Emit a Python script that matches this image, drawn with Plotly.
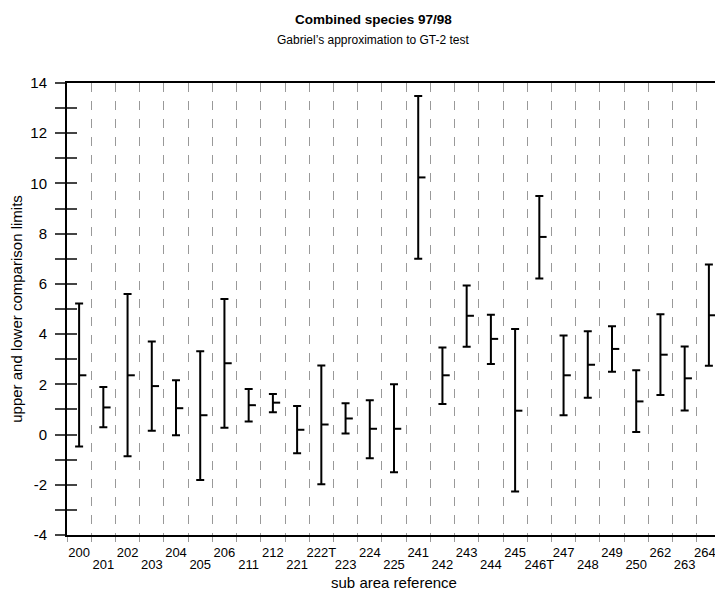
import plotly.graph_objects as go

categories = ["200", "201", "202", "203", "204", "205", "206", "211", "212", "221",
              "222T", "223", "224", "225", "241", "242", "243", "244", "245", "246T",
              "247", "248", "249", "250", "262", "263", "264T"]
upper = [5.22, 1.89, 5.60, 3.71, 2.16, 3.32, 5.40, 1.81, 1.62, 1.14,
         2.75, 1.25, 1.37, 2.00, 13.48, 3.47, 5.94, 4.77, 4.20, 9.50,
         3.94, 4.11, 4.31, 2.56, 4.79, 3.51, 6.77]
mean = [2.36, 1.08, 2.36, 1.93, 1.05, 0.77, 2.84, 1.17, 1.27, 0.19,
        0.40, 0.64, 0.23, 0.23, 10.24, 2.36, 4.73, 3.81, 0.95, 7.87,
        2.36, 2.78, 3.41, 1.32, 3.18, 2.24, 4.75]
lower = [-0.48, 0.29, -0.86, 0.15, -0.03, -1.81, 0.27, 0.52, 0.89, -0.74,
         -1.98, 0.04, -0.94, -1.50, 7.00, 1.22, 3.50, 2.81, -2.27, 6.21,
         0.77, 1.47, 2.50, 0.10, 1.58, 0.96, 2.74]
y_ticks = list(range(-4, 15))

n = len(categories)
xc = [i + 0.5 for i in range(n)]
even_vals = [xc[i] for i in range(0, n, 2)]
even_text = [categories[i] for i in range(0, n, 2)]
odd_vals = [xc[i] for i in range(1, n, 2)]
odd_text = [categories[i] for i in range(1, n, 2)]

fig = go.Figure()
fig.add_trace(go.Scatter(
    x=xc, y=mean, mode="markers",
    marker=dict(size=2, color="black", opacity=0),
    error_y=dict(type="data", symmetric=False,
                 array=[u - m for u, m in zip(upper, mean)],
                 arrayminus=[m - l for m, l in zip(mean, lower)],
                 width=4, thickness=2, color="black"),
    hoverinfo="skip", showlegend=False))

mx, my = [], []
for x, m in zip(xc, mean):
    mx += [x, x + 0.3, None]
    my += [m, m, None]
fig.add_trace(go.Scatter(x=mx, y=my, mode="lines", line=dict(color="black", width=2),
                         xaxis="x2", yaxis="y2", hoverinfo="skip", showlegend=False))

font_family = "Liberation Sans, Arial, sans-serif"
title_x = (373 - 67) / 654
fig.update_layout(
    width=715, height=583,
    margin=dict(l=59, r=2, t=75, b=56),
    paper_bgcolor="white", plot_bgcolor="white",
    font=dict(family=font_family, color="black"),
    showlegend=False,
    xaxis=dict(
        range=[0, 27], tickmode="array", tickvals=even_vals, ticktext=even_text,
        tickangle=0, automargin=False, ticklabelstandoff=4, ticklabeloverflow="allow",
        ticks="", showgrid=False, zeroline=False,
        showline=True, linecolor="black", linewidth=2, mirror=True,
        tickfont=dict(size=13),
        minor=dict(tickmode="linear", tick0=0, dtick=1, ticks="outside", ticklen=5,
                   tickcolor="#999", showgrid=True, gridcolor="#999",
                   griddash="dash", gridwidth=1),
        title=dict(text="sub area reference", font=dict(size=15), standoff=19),
    ),
    xaxis2=dict(
        range=[0, 27], overlaying="x", matches="x", anchor="y", side="bottom",
        tickmode="array", tickvals=odd_vals, ticktext=odd_text,
        tickangle=0, automargin=False, ticklabelstandoff=20, ticklabeloverflow="allow",
        ticks="", showgrid=False, zeroline=False, showline=False,
        tickfont=dict(size=13),
    ),
    yaxis=dict(
        range=[-4, 14], tickmode="array", tickvals=y_ticks, automargin=False,
        ticktext=[str(v) if v % 2 == 0 else "" for v in y_ticks],
        ticks="outside", ticklen=10, tickcolor="#444", tickwidth=1.5,
        ticklabelstandoff=5,
        showgrid=False, zeroline=False,
        showline=True, linecolor="black", linewidth=2, mirror=True,
        tickfont=dict(size=15),
        title=dict(text="upper and lower comparison limits", font=dict(size=15), standoff=6),
    ),
    yaxis2=dict(
        range=[-4, 14], overlaying="y", side="left", anchor="x", automargin=False,
        tickmode="array", tickvals=y_ticks, ticks="inside", ticklen=10,
        tickcolor="#444", tickwidth=1.5, showticklabels=False,
        showgrid=False, zeroline=False, showline=False,
    ),
    annotations=[
        dict(text="<b>Combined species 97/98</b>", xref="paper", yref="paper",
             x=title_x, y=1, showarrow=False,
             font=dict(size=13.5), yanchor="middle", yshift=64),
        dict(text="Gabriel\u2019s approximation to GT-2 test", xref="paper", yref="paper",
             x=title_x, y=1, showarrow=False,
             font=dict(size=12), yanchor="middle", yshift=43),
    ],
)

fig.write_html("out.html")
